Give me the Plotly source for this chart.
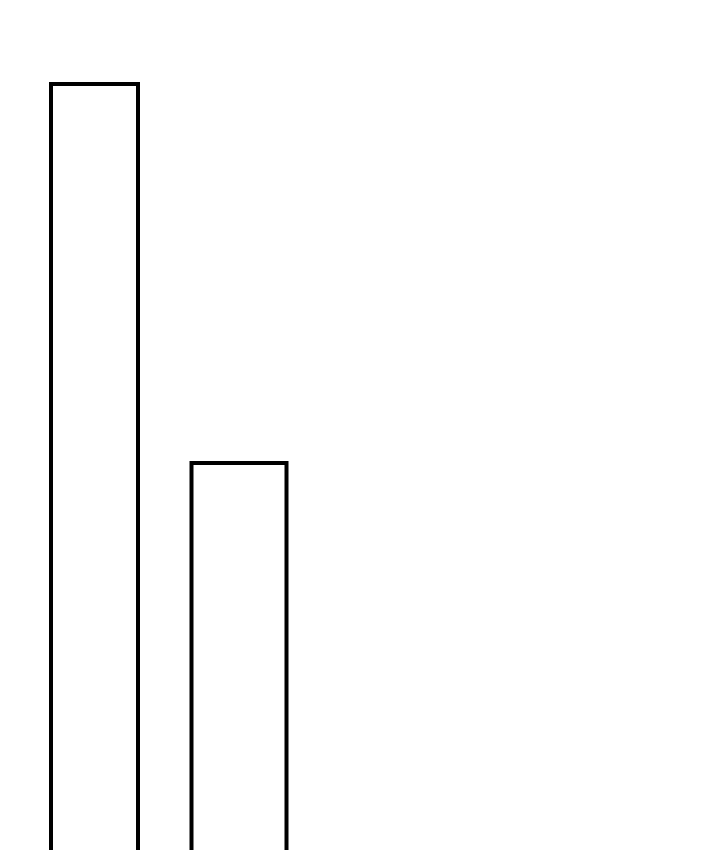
import plotly.graph_objects as go

# data (bars run past the lower edge)
categories = ["A", "B"]
values = [779, 400]

# layout of the two bars in axis units (axis spans the plot 1:1,
# the page itself sits 8px in from the window edge)
centers = [86.5, 231]
widths = [87, 95]

fig = go.Figure()
fig.add_trace(
    go.Bar(
        x=centers,
        y=values,
        width=widths,
        text=categories,
        textposition="none",
        marker=dict(color="white", line=dict(color="black", width=4)),
        hoverinfo="skip",
    )
)

fig.update_layout(
    width=720,
    height=850,
    margin=dict(l=0, r=0, t=0, b=0),
    paper_bgcolor="white",
    plot_bgcolor="white",
    showlegend=False,
)
fig.update_xaxes(range=[0, 720], visible=False, fixedrange=True)
fig.update_yaxes(range=[5, 855], visible=False, fixedrange=True)

fig.write_html("out.html", config={"displayModeBar": False})
